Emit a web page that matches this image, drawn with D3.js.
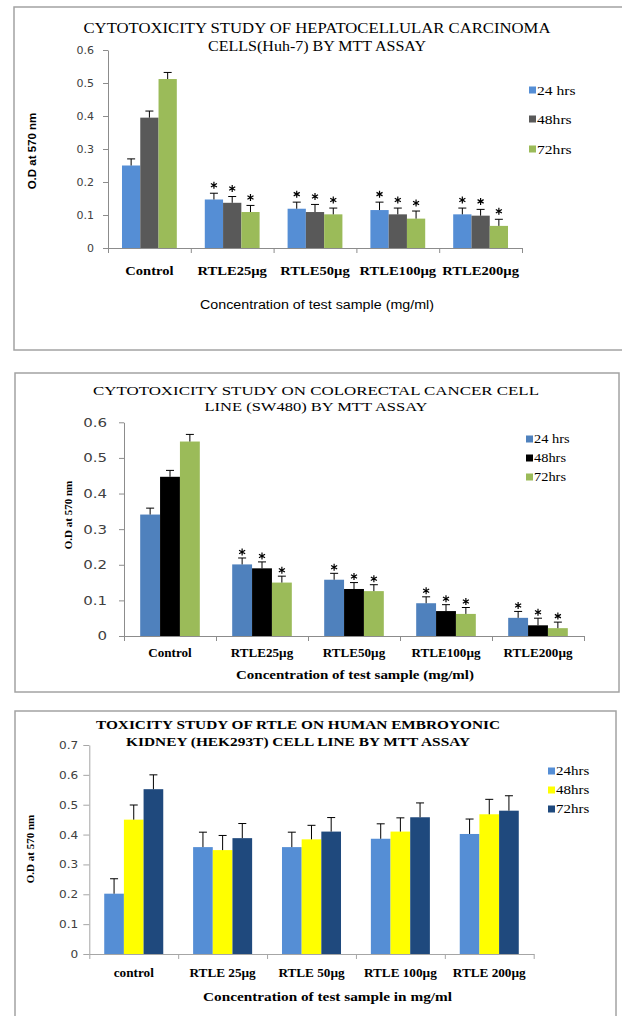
<!DOCTYPE html>
<html>
<head>
<meta charset="utf-8">
<script src="https://cdn.jsdelivr.net/npm/d3@7"></script>
<style>
  html, body { margin: 0; padding: 0; background: #fff; }
  svg { display: block; }
</style>
</head>
<body>
<svg id="fig" width="622" height="1016"></svg>
<script>
// ---------- Panel 1: hepatocellular carcinoma (Huh-7) ----------
const hepCategories = ["Control", "RTLE25µg", "RTLE50µg", "RTLE100µg", "RTLE200µg"];
const hepSeries = ["24 hrs", "48hrs", "72hrs"];
const hep24 = [0.250, 0.147, 0.119, 0.115, 0.102];
const hep48 = [0.395, 0.137, 0.109, 0.102, 0.098];
const hep72 = [0.512, 0.109, 0.102, 0.089, 0.067];
const hepErr24 = [0.020, 0.019, 0.020, 0.024, 0.019];
const hepErr48 = [0.020, 0.019, 0.023, 0.019, 0.019];
const hepErr72 = [0.020, 0.020, 0.019, 0.023, 0.020];
const hepTicks = [0, 0.1, 0.2, 0.3, 0.4, 0.5, 0.6];

// ---------- Panel 2: colorectal cancer (SW480) ----------
const colCategories = ["Control", "RTLE25µg", "RTLE50µg", "RTLE100µg", "RTLE200µg"];
const colSeries = ["24 hrs", "48hrs", "72hrs"];
const col24 = [0.341, 0.201, 0.158, 0.092, 0.051];
const col48 = [0.447, 0.190, 0.132, 0.070, 0.030];
const col72 = [0.546, 0.150, 0.126, 0.062, 0.022];
const colErr24 = [0.018, 0.018, 0.018, 0.018, 0.018];
const colErr48 = [0.018, 0.018, 0.018, 0.018, 0.020];
const colErr72 = [0.020, 0.018, 0.018, 0.018, 0.017];
const colTicks = [0, 0.1, 0.2, 0.3, 0.4, 0.5, 0.6];

// ---------- Panel 3: human embryonic kidney (HEK293T) ----------
const hekCategories = ["control", "RTLE 25µg", "RTLE 50µg", "RTLE 100µg", "RTLE 200µg"];
const hekSeries = ["24hrs", "48hrs", "72hrs"];
const hek24 = [0.202, 0.358, 0.358, 0.386, 0.402];
const hek48 = [0.450, 0.348, 0.384, 0.410, 0.468];
const hek72 = [0.552, 0.388, 0.410, 0.458, 0.480];
const hekErr24 = [0.050, 0.050, 0.050, 0.050, 0.050];
const hekErr48 = [0.049, 0.049, 0.047, 0.046, 0.050];
const hekErr72 = [0.048, 0.049, 0.047, 0.048, 0.050];
const hekTicks = [0, 0.1, 0.2, 0.3, 0.4, 0.5, 0.6, 0.7];

const SERIF = "'Liberation Serif', 'Times New Roman', serif";
const SANS = "'Liberation Sans', Arial, sans-serif";
const DEJAVU = "'DejaVu Sans', sans-serif";

const svg = d3.select("#fig");

// text helper: horizontally stretched glyphs, or a fixed length
function label(g, o) {
  const t = g.append("text")
    .attr("text-anchor", o.anchor || "middle")
    .attr("dy", "0.35em")
    .style("font-family", o.font)
    .style("font-size", o.size + "px")
    .style("font-weight", o.weight || "normal")
    .attr("fill", o.fill || "#000")
    .text(o.text);
  if (o.len) {
    t.attr("x", o.x).attr("y", o.y)
      .attr("textLength", o.len).attr("lengthAdjust", "spacingAndGlyphs");
  } else {
    const sx = o.sx || 1;
    const rot = o.rotate ? ` rotate(${o.rotate})` : "";
    t.attr("transform", `translate(${o.x},${o.y})${rot} scale(${sx},1)`);
  }
  return t;
}

const star = d3.symbol(d3.symbolAsterisk, 34);

function drawPanel(p) {
  const g = svg.append("g");

  // frame
  g.append("rect")
    .attr("x", p.box[0]).attr("y", p.box[1])
    .attr("width", p.box[2]).attr("height", p.box[3])
    .attr("fill", "#fff").attr("stroke", "#a3a3a3").attr("stroke-width", 1.5);

  const x = d3.scaleBand().domain(p.categories).range([p.x0, p.x1]);
  const xs = d3.scaleBand().domain(p.series)
    .range([x.bandwidth() * p.pad, x.bandwidth() * (1 - p.pad)]);
  const y = d3.scaleLinear().domain([0, p.yMax]).range([p.y0, p.yTop]);

  // y axis
  const ya = g.append("g").attr("transform", `translate(${p.x0},0)`)
    .call(d3.axisLeft(y).tickValues(p.ticks).tickSize(p.tickSize).tickSizeOuter(0)
      .tickPadding(p.tickPad).tickFormat(d => d === 0 ? "0" : d3.format(".1f")(d)));
  ya.select(".domain").attr("stroke", p.axisColor);
  ya.selectAll(".tick line").attr("stroke", p.axisColor);
  ya.selectAll(".tick text")
    .style("font-family", DEJAVU).style("font-size", p.tickFont + "px")
    .attr("fill", "#404040")
    .attr("transform", `scale(${p.tickSx},1)`)
    .attr("x", -(p.tickSize + p.tickPad) / p.tickSx);

  // x axis with boundary ticks
  const xb = d3.scaleLinear().domain([0, p.categories.length]).range([p.x0, p.x1]);
  const xa = g.append("g").attr("transform", `translate(0,${p.y0})`)
    .call(d3.axisBottom(xb).tickValues(d3.range(p.categories.length + 1))
      .tickSize(5).tickSizeOuter(0).tickFormat(""));
  xa.select(".domain").attr("stroke", p.axisColor);
  xa.selectAll(".tick line").attr("stroke", p.axisColor);

  // bars
  const rows = p.categories.map((c, i) => ({
    cat: c,
    vals: p.series.map((s, j) => ({ s, j, v: p.values[j][i], e: p.errors[j][i], ctl: i === 0 }))
  }));
  const grp = g.selectAll("g.grp").data(rows).enter().append("g")
    .attr("transform", d => `translate(${x(d.cat)},0)`);
  grp.selectAll("rect").data(d => d.vals).enter().append("rect")
    .attr("x", d => xs(d.s)).attr("width", xs.bandwidth())
    .attr("y", d => y(d.v)).attr("height", d => p.y0 - y(d.v))
    .attr("fill", d => p.colors[d.j]);

  // error bars (upper only)
  const eb = grp.selectAll("g.err").data(d => d.vals).enter().append("g")
    .attr("stroke", "#000").attr("stroke-width", 1);
  eb.append("line")
    .attr("x1", d => xs(d.s) + xs.bandwidth() / 2).attr("x2", d => xs(d.s) + xs.bandwidth() / 2)
    .attr("y1", d => y(d.v)).attr("y2", d => y(d.v + d.e));
  eb.append("line")
    .attr("x1", d => xs(d.s) + xs.bandwidth() / 2 - 4).attr("x2", d => xs(d.s) + xs.bandwidth() / 2 + 4)
    .attr("y1", d => y(d.v + d.e)).attr("y2", d => y(d.v + d.e));

  // significance markers
  if (p.stars) {
    grp.selectAll("path.star").data(d => d.vals.filter(v => !v.ctl)).enter().append("path")
      .attr("d", star)
      .attr("transform", d => `translate(${xs(d.s) + xs.bandwidth() / 2},${y(d.v + d.e) - p.starOff})`)
      .attr("fill", "none").attr("stroke", "#000").attr("stroke-width", 1.2);
  }

  // category labels
  p.categories.forEach(c => label(g, {
    x: x(c) + x.bandwidth() / 2, y: p.catY, text: c, font: SERIF, size: p.catFont,
    weight: "bold", sx: p.catSx
  }));

  // titles
  p.title.forEach((t, i) => label(g, {
    x: p.titleX, y: p.titleY[i], text: t, font: SERIF, size: p.titleFont,
    weight: p.titleWeight, len: p.titleLen[i]
  }));

  // axis titles
  label(g, { x: p.xTitleX, y: p.xTitleY, text: p.xTitle, font: p.xTitleFont,
    size: p.xTitleSize, weight: p.xTitleWeight, len: p.xTitleLen });
  label(g, { x: p.yTitleX, y: p.yTitleY, text: "O.D at 570 nm", font: p.yTitleFont,
    size: p.yTitleSize, weight: "bold", rotate: -90 });

  // legend
  p.series.forEach((s, j) => {
    const ly = p.legY[j];
    g.append("rect").attr("x", p.legX).attr("y", ly - 3.5).attr("width", 7).attr("height", 7)
      .attr("fill", p.colors[j]);
    label(g, { x: p.legX + 8, y: ly, text: s, font: SERIF, size: p.legFont,
      anchor: "start", sx: 1.2 });
  });
}

drawPanel({
  box: [14, 7, 640, 343],
  categories: hepCategories, series: hepSeries,
  values: [hep24, hep48, hep72], errors: [hepErr24, hepErr48, hepErr72],
  colors: ["#558ed5", "#595959", "#9bbb59"],
  x0: 108, x1: 522, y0: 248, yTop: 50, yMax: 0.6, ticks: hepTicks, pad: 0.169,
  tickSize: 5, tickPad: 9, tickFont: 11, tickSx: 1.0, axisColor: "#8c8c8c",
  stars: true, starOff: 8,
  catY: 270, catFont: 13, catSx: 1.12,
  title: ["CYTOTOXICITY STUDY OF HEPATOCELLULAR CARCINOMA", "CELLS(Huh-7) BY MTT ASSAY"],
  titleX: 317, titleY: [28, 46], titleFont: 14, titleWeight: "normal", titleLen: [467, 218],
  xTitle: "Concentration of test sample  (mg/ml)", xTitleX: 317, xTitleY: 305,
  xTitleFont: SANS, xTitleSize: 12, xTitleWeight: "normal", xTitleLen: 234,
  yTitleX: 32, yTitleY: 151, yTitleFont: SANS, yTitleSize: 11.5,
  legX: 529, legY: [90, 119, 149], legFont: 13
});

drawPanel({
  box: [15, 373, 604, 319],
  categories: colCategories, series: colSeries,
  values: [col24, col48, col72], errors: [colErr24, colErr48, colErr72],
  colors: ["#4f81bd", "#000000", "#9bbb59"],
  x0: 124, x1: 584, y0: 636, yTop: 422.3, yMax: 0.6, ticks: colTicks, pad: 0.176,
  tickSize: 5, tickPad: 12, tickFont: 12, tickSx: 1.25, axisColor: "#8c8c8c",
  stars: true, starOff: 6,
  catY: 653, catFont: 11.5, catSx: 1.14,
  title: ["CYTOTOXICITY STUDY ON COLORECTAL CANCER CELL", "LINE (SW480) BY MTT ASSAY"],
  titleX: 316, titleY: [390, 406], titleFont: 13, titleWeight: "normal", titleLen: [446, 223],
  xTitle: "Concentration of test sample (mg/ml)", xTitleX: 355, xTitleY: 675,
  xTitleFont: SERIF, xTitleSize: 12.5, xTitleWeight: "bold", xTitleLen: 238,
  yTitleX: 68, yTitleY: 515, yTitleFont: SERIF, yTitleSize: 11,
  legX: 526, legY: [439, 458, 477], legFont: 12
});

drawPanel({
  box: [15, 711, 601, 330],
  categories: hekCategories, series: hekSeries,
  values: [hek24, hek48, hek72], errors: [hekErr24, hekErr48, hekErr72],
  colors: ["#558ed5", "#ffff00", "#1f497d"],
  x0: 89.3, x1: 533.7, y0: 954, yTop: 745, yMax: 0.7, ticks: hekTicks, pad: 0.168,
  tickSize: 6, tickPad: 5, tickFont: 11, tickSx: 1.1, axisColor: "#a6a6a6",
  stars: false, starOff: 0,
  catY: 973, catFont: 11.5, catSx: 1.15,
  title: ["TOXICITY STUDY OF RTLE ON HUMAN EMBROYONIC", "KIDNEY (HEK293T) CELL LINE BY MTT ASSAY"],
  titleX: 298, titleY: [725, 742], titleFont: 12, titleWeight: "bold", titleLen: [404, 344],
  xTitle: "Concentration of test sample in mg/ml", xTitleX: 327.5, xTitleY: 997,
  xTitleFont: SERIF, xTitleSize: 12, xTitleWeight: "bold", xTitleLen: 249,
  yTitleX: 30, yTitleY: 849, yTitleFont: SERIF, yTitleSize: 11,
  legX: 548, legY: [771, 790, 809], legFont: 12.5
});
</script>
</body>
</html>
